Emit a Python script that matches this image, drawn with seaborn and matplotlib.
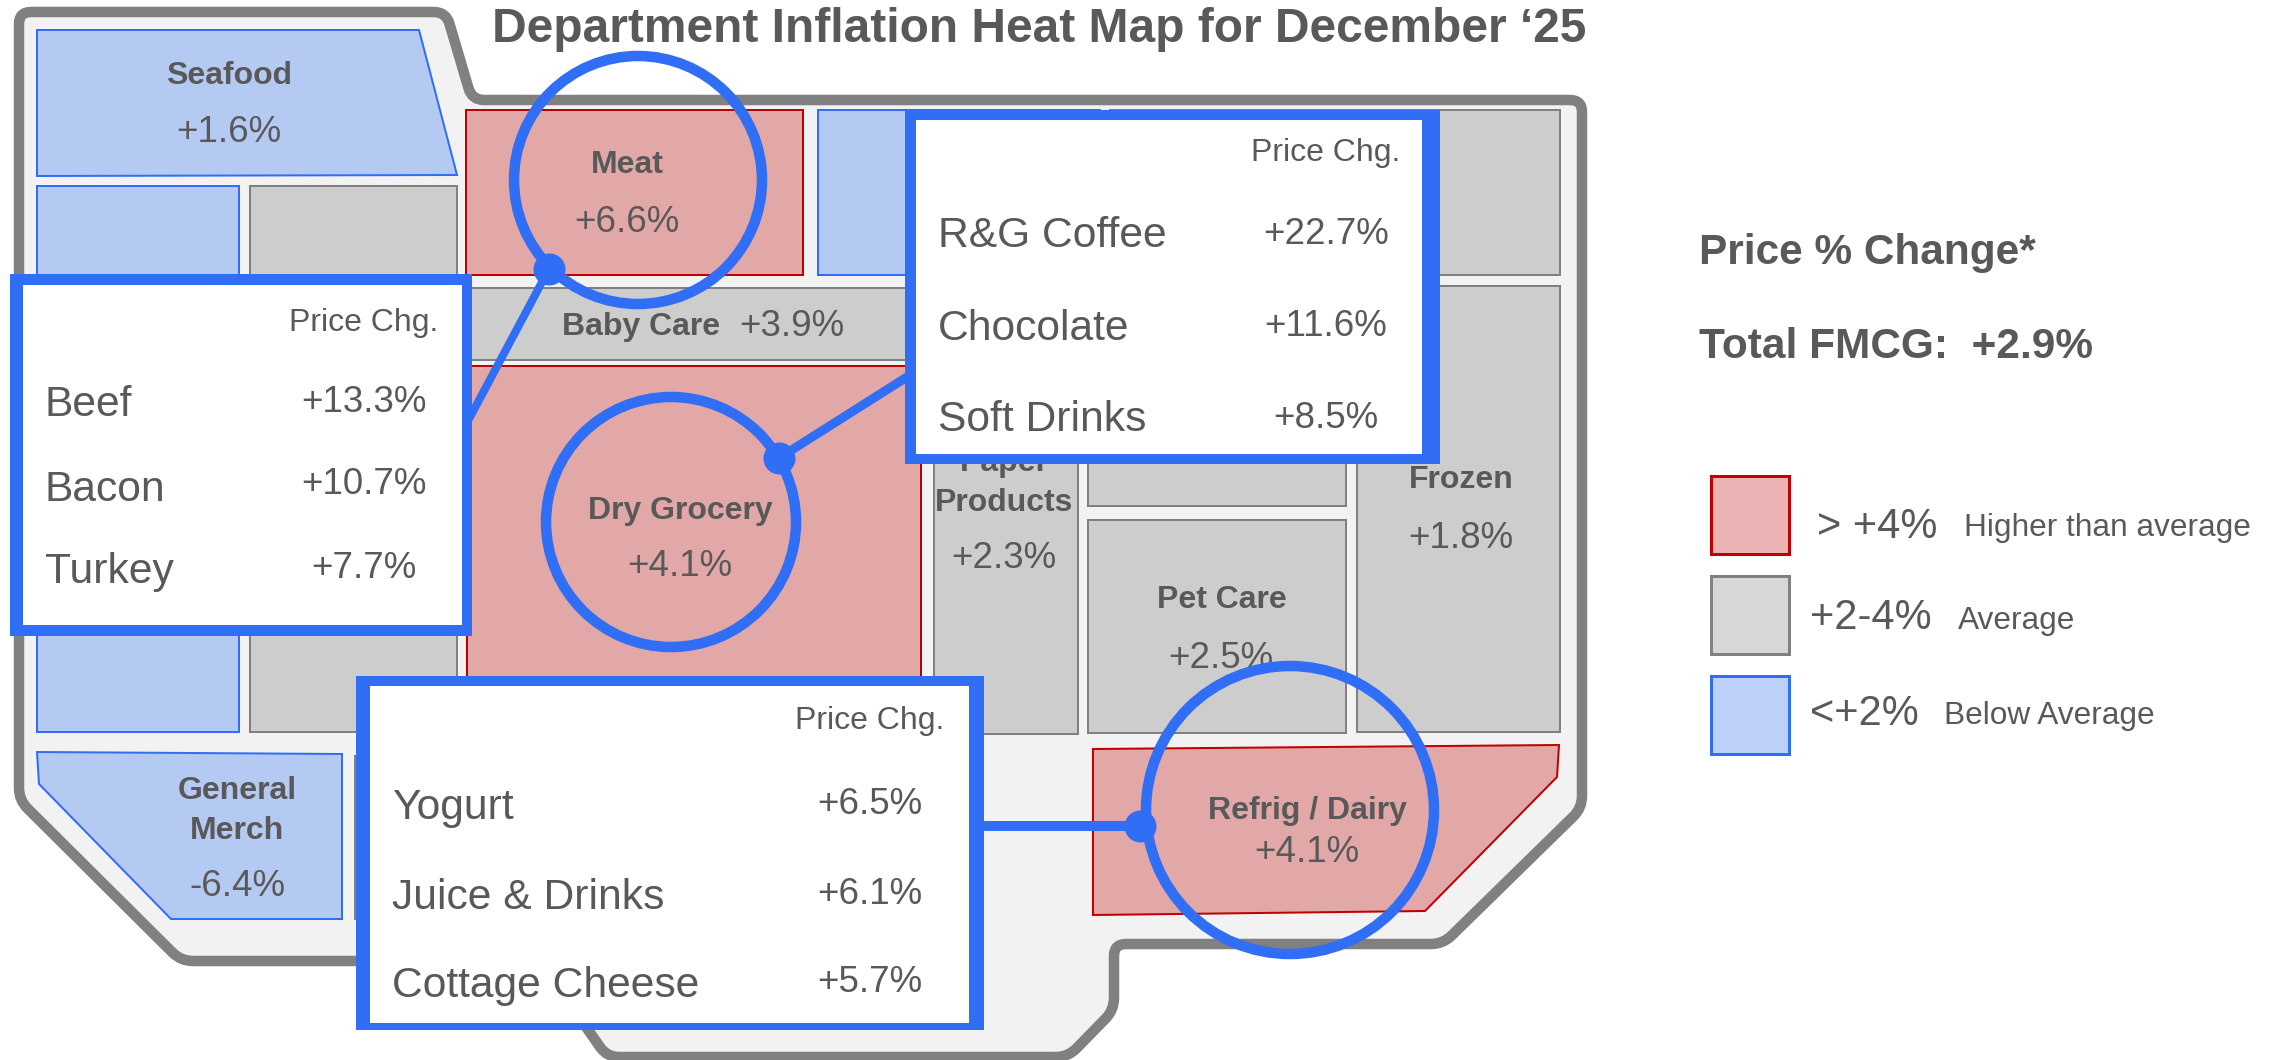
import math
import matplotlib
matplotlib.use("Agg")
import matplotlib.pyplot as plt
from matplotlib.patches import Polygon, Rectangle, Circle, PathPatch
from matplotlib.path import Path
import pandas as pd
import seaborn as sns

# ---------- data ----------
departments = ["Seafood", "Meat", "Baby Care", "Dry Grocery", "Paper\nProducts",
               "Frozen", "Pet Care", "Refrig / Dairy", "General\nMerch"]
dept_changes = ["+1.6%", "+6.6%", "+3.9%", "+4.1%", "+2.3%", "+1.8%", "+2.5%", "+4.1%", "-6.4%"]
dept_tiers = ["low", "high", "avg", "high", "avg", "avg", "avg", "high", "low"]

meat_items = ["Beef", "Bacon", "Turkey"]
meat_changes = ["+13.3%", "+10.7%", "+7.7%"]
grocery_items = ["R&G Coffee", "Chocolate", "Soft Drinks"]
grocery_changes = ["+22.7%", "+11.6%", "+8.5%"]
dairy_items = ["Yogurt", "Juice & Drinks", "Cottage Cheese"]
dairy_changes = ["+6.5%", "+6.1%", "+5.7%"]

legend_ranges = ["> +4%", "+2-4%", "<+2%"]
legend_notes = ["Higher than average", "Average", "Below Average"]
legend_tiers = ["high", "avg", "low"]

title = "Department Inflation Heat Map for December \u201825"
header_left = "Price % Change*"
header_total = "Total FMCG:  +2.9%"
column_title = "Price Chg."

# ---------- style ----------
sns.set_theme(style="white")
plt.rcParams["font.family"] = ["Liberation Sans", "DejaVu Sans"]
INK = "#595959"
BLUE = "#2F6EF5"
tier_fill = dict(high="#E2A7A7", avg="#CDCDCD", low="#B5CAF3")
tier_edge = dict(high="#C00000", avg="#808080", low=BLUE)
legend_fill = dict(high="#EAB2B2", avg="#D7D7D7", low="#BDD0FA")

W, H = 2284, 1060
fig = plt.figure(figsize=(W / 100, H / 100), dpi=100, facecolor="white")
ax = fig.add_axes([0, 0, 1, 1])
ax.set_xlim(0, W)
ax.set_ylim(H, 0)
ax.set_axis_off()
px = 0.72  # points per pixel
DY = 3     # text baseline offset


def label(x, y, s, **kw):
    kw.setdefault("color", INK)
    kw.setdefault("va", "center")
    return ax.text(x, y + DY, s, **kw)


def rounded(points, r):
    """Closed path through points, with each corner rounded by a quadratic curve."""
    verts, codes = [], []
    n = len(points)
    for i, p in enumerate(points):
        a, b = points[i - 1], points[(i + 1) % n]
        da, db = math.dist(p, a), math.dist(p, b)
        ra, rb = min(r, da / 2), min(r, db / 2)
        s = (p[0] + (a[0] - p[0]) * ra / da, p[1] + (a[1] - p[1]) * ra / da)
        e = (p[0] + (b[0] - p[0]) * rb / db, p[1] + (b[1] - p[1]) * rb / db)
        verts += [s, p, e]
        codes += [Path.MOVETO if i == 0 else Path.LINETO, Path.CURVE3, Path.CURVE3]
    verts.append(verts[0])
    codes.append(Path.CLOSEPOLY)
    return Path(verts, codes)


# ---------- floor plan ----------
outline = [(19, 12), (446, 12), (472, 100), (1582, 100), (1582, 808), (1443, 944),
           (1114, 944), (1114, 1010), (1068, 1057), (607, 1057), (540, 961),
           (181, 961), (19, 800)]
ax.add_patch(PathPatch(rounded(outline, 12), fc="#F2F2F2", ec="#808080", lw=10.5 * px,
                       joinstyle="round", zorder=1))


def rect(x0, y0, x1, y1):
    return [(x0, y0), (x1, y0), (x1, y1), (x0, y1)]


# (outline, tier) of each block of the floor plan
blocks = [
    ([(37, 30), (419, 30), (457, 175), (37, 176)], "low"),
    (rect(37, 186, 239, 732), "low"),
    (rect(250, 186, 457, 732), "avg"),
    (rect(466, 110, 803, 275), "high"),
    (rect(818, 110, 1100, 275), "low"),
    (rect(1110, 110, 1560, 275), "avg"),
    (rect(466, 288, 1000, 360), "avg"),
    (rect(467, 366, 921, 732), "high"),
    (rect(934, 366, 1078, 734), "avg"),
    (rect(1088, 366, 1346, 506), "avg"),
    (rect(1088, 520, 1346, 733), "avg"),
    (rect(1357, 286, 1560, 732), "avg"),
    ([(1093, 749), (1559, 745), (1557, 777), (1425, 911), (1093, 915)], "high"),
    ([(37, 752), (342, 754), (342, 919), (171, 919), (39, 784)], "low"),
    (rect(355, 756, 700, 919), "avg"),
]
for pts, tier in blocks:
    ax.add_patch(Polygon(pts, closed=True, fc=tier_fill[tier], ec=tier_edge[tier],
                         lw=2 * px, zorder=2))

# department labels: name position and value position
name_pos = [(229, 73), (627, 162), (641, 324), (680, 508), (1004, 480),
            (1461, 477), (1222, 597), (1307, 808), (237, 808)]
value_pos = [(229, 130), (627, 220), (792, 324), (680, 564), (1004, 555),
             (1461, 535), (1221, 655), (1307, 849), (237, 884)]
for name, chg, (nx, ny), (vx, vy) in zip(departments, dept_changes, name_pos, value_pos):
    label(nx, ny, name, ha="center", fontsize=23, fontweight="bold", zorder=3, linespacing=1.4)
    label(vx, vy, chg, ha="center", fontsize=26.5, zorder=3)

# ---------- rings and leaders ----------
rings = [(638, 180, 124), (671, 522, 125), (1290, 810, 144)]
for cx, cy, r in rings:
    ax.add_patch(Circle((cx, cy), r, fc="none", ec=BLUE, lw=10.5 * px, zorder=4))

leaders = [((549, 269), (469, 419), 8), ((779, 458), (907, 377), 9), ((1140, 826), (984, 826), 10)]
for a, b, lw in leaders:
    ax.plot([a[0], b[0]], [a[1], b[1]], color=BLUE, lw=lw * px, zorder=4,
            solid_capstyle="butt")
dots = pd.DataFrame({"x": [l[0][0] for l in leaders], "y": [l[0][1] for l in leaders]})
sns.scatterplot(data=dots, x="x", y="y", ax=ax, color=BLUE, s=(32 * px) ** 2,
                linewidth=0, zorder=5, legend=False)
ax.set_xlim(0, W)
ax.set_ylim(H, 0)
ax.set_axis_off()


# ---------- call-out tables ----------
def callout(outer, inner, items, changes, item_x, value_x, header_y, item_ys, value_ys):
    for (x0, y0, x1, y1), col, z in ((outer, BLUE, 6), (inner, "white", 6.5)):
        ax.add_patch(Rectangle((x0, y0), x1 - x0, y1 - y0, fc=col, ec="none", zorder=z))
    label(value_x, header_y, column_title, ha="center", fontsize=23, zorder=7)
    for it, ch, iy, vy in zip(items, changes, item_ys, value_ys):
        label(item_x, iy, it, ha="left", fontsize=30.7, zorder=7)
        label(value_x, vy, ch, ha="center", fontsize=26.5, zorder=7)


callout((10, 274, 472, 636), (23, 285, 462, 625), meat_items, meat_changes, 45, 364, 320,
        (402, 487, 569), (399, 482, 565))
callout((905, 110, 1440, 464), (916, 120, 1422, 454), grocery_items, grocery_changes, 938, 1326, 150,
        (233, 326, 417), (231, 323, 415))
callout((356, 676, 984, 1030), (370, 686, 969, 1023), dairy_items, dairy_changes, 392, 870, 718,
        (805, 895, 983), (801, 891, 980))

# ---------- title and legend ----------
label(1039, 26, title, ha="center", fontsize=34.5, fontweight="bold")
label(1699, 250, header_left, ha="left", fontsize=30.5, fontweight="bold")
label(1699, 344, header_total, ha="left", fontsize=30.5, fontweight="bold")

swatch_y = [476, 576, 676]
range_pos = [(1817, 524), (1810, 615), (1810, 711)]
note_pos = [(1964, 525), (1958, 618), (1944, 713)]
for rng, note, tier, sy, rp, np_ in zip(legend_ranges, legend_notes, legend_tiers,
                                        swatch_y, range_pos, note_pos):
    ax.add_patch(Rectangle((1711, sy), 78, 78, fc=legend_fill[tier], ec=tier_edge[tier],
                           lw=3 * px, zorder=2))
    label(rp[0], rp[1], rng, ha="left", fontsize=30)
    label(np_[0], np_[1], note, ha="left", fontsize=22.8)

fig.savefig("out.png", dpi=100, facecolor="white")
